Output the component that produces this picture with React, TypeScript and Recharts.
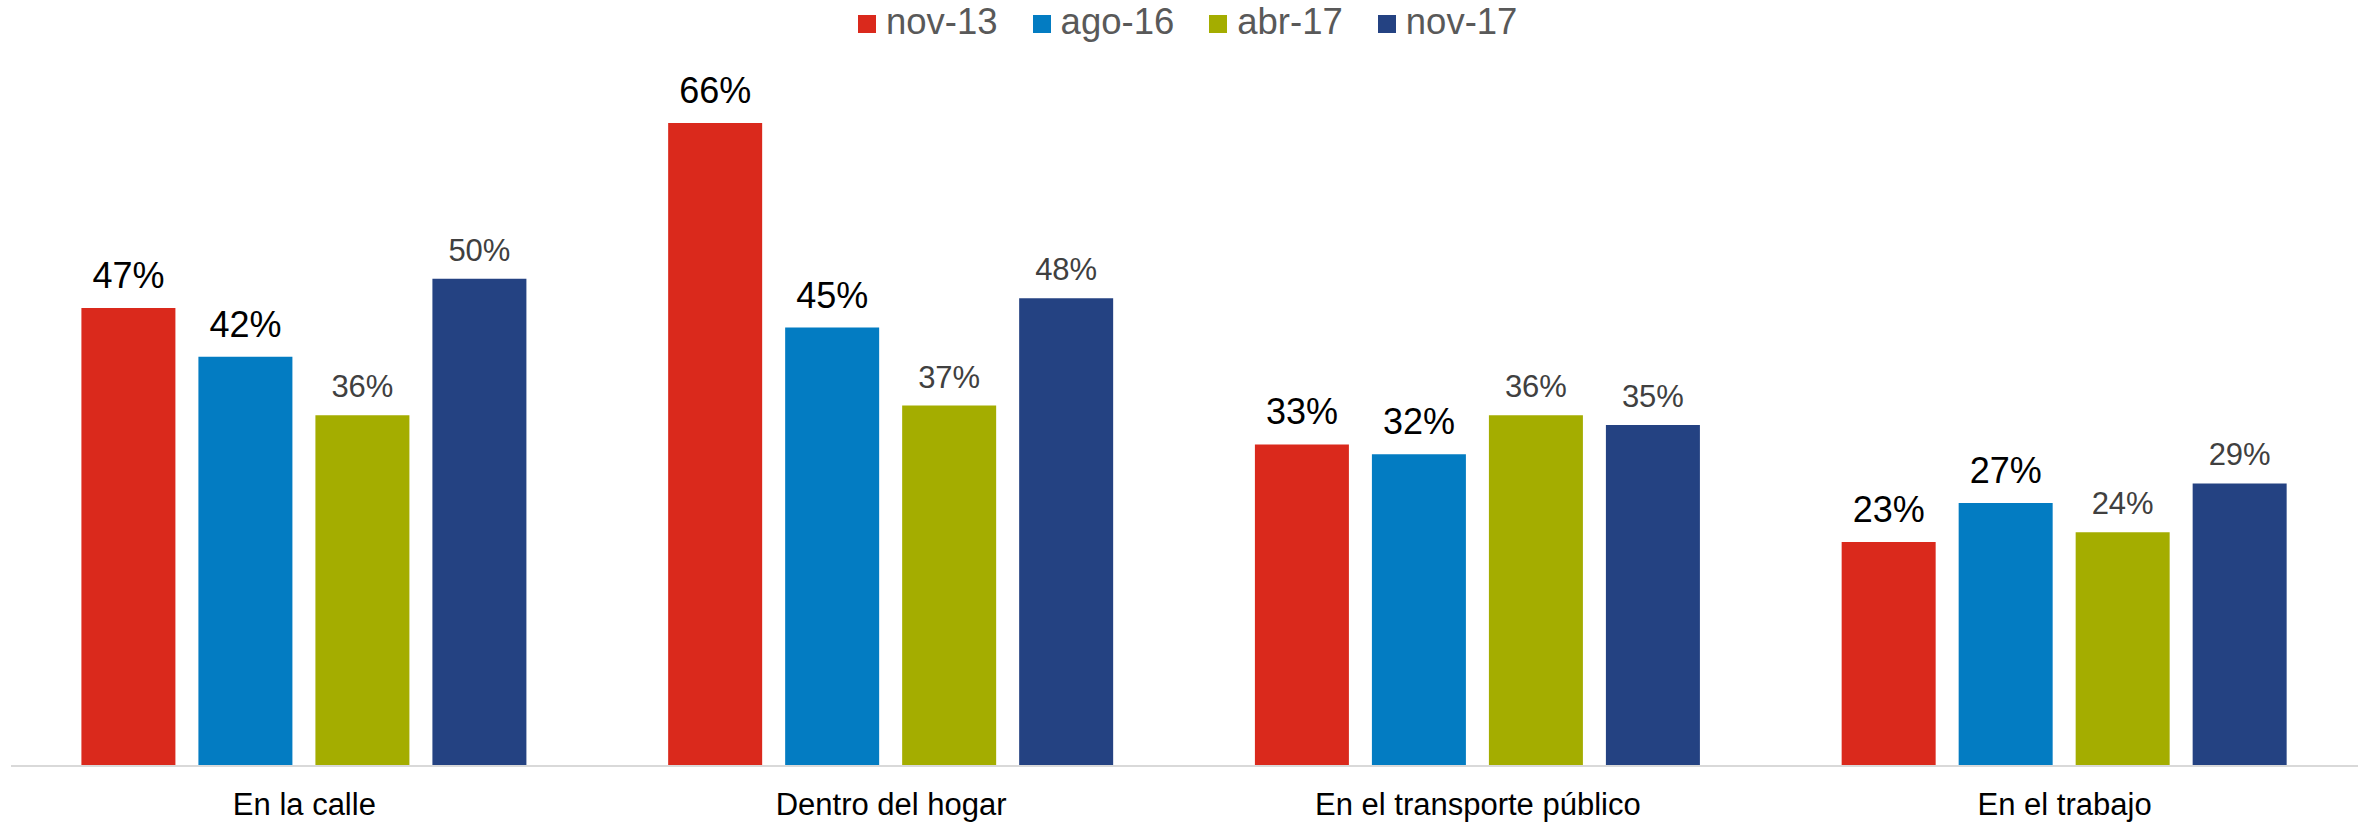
import React from "react";
import { BarChart, Bar, XAxis, YAxis, Legend, LabelList } from "recharts";

const categories = ["En la calle", "Dentro del hogar", "En el transporte público", "En el trabajo"];
const nov13 = [47, 66, 33, 23];
const ago16 = [42, 45, 32, 27];
const abr17 = [36, 37, 36, 24];
const nov17 = [50, 48, 35, 29];

const seriesNames = ["nov-13", "ago-16", "abr-17", "nov-17"];
const seriesColors = ["#DA291C", "#037CC2", "#A4AD00", "#244282"];

const data = categories.map((c, i) => ({
  name: c,
  "nov-13": nov13[i],
  "ago-16": ago16[i],
  "abr-17": abr17[i],
  "nov-17": nov17[i],
}));

const FONT = "'Liberation Sans', Arial, sans-serif";

const LegendContent = (props: any) => {
  const payload = [...(props.payload || [])].sort(
    (a: any, b: any) => seriesNames.indexOf(a.value) - seriesNames.indexOf(b.value)
  );
  return (
    <div
      style={{
        display: "flex",
        justifyContent: "flex-start",
        paddingLeft: 858,
        fontFamily: FONT,
        fontSize: 36.5,
        lineHeight: "36px",
        color: "#595959",
      }}
    >
      {payload.map((p: any, i: number) => (
        <div key={i} style={{ display: "flex", alignItems: "flex-start", marginRight: i < payload.length - 1 ? 35 : 0 }}>
          <div style={{ width: 18, height: 18, background: p.color, marginTop: 11, marginRight: 10 }} />
          <span>{p.value}</span>
        </div>
      ))}
    </div>
  );
};

const fmt = (v: any) => `${v}%`;

export default function App() {
  return (
    <div style={{ position: "absolute", left: 0, top: 0, width: 2364, height: 822, background: "#fff" }}>
      <BarChart
        width={2364}
        height={822}
        data={data}
        margin={{ top: 84, right: 6, bottom: 6, left: 11 }}
        barCategoryGap="12%"
        barGap={23}
        style={{ fontFamily: FONT }}
      >
        <XAxis
          dataKey="name"
          height={50}
          axisLine={{ stroke: "#D9D9D9", strokeWidth: 2 }}
          tickLine={false}
          tickSize={0}
          tickMargin={27}
          tick={{ fontSize: 31, fill: "#000000", fontFamily: FONT }}
        />
        <YAxis hide domain={[0, 70]} />
        <Legend
          verticalAlign="middle"
          align="center"
          wrapperStyle={{ top: 4, left: 0, width: 2364 }}
          content={<LegendContent />}
        />
        {seriesNames.map((s, i) => (
          <Bar key={s} dataKey={s} name={s} fill={seriesColors[i]} isAnimationActive={false}>
            <LabelList
              dataKey={s}
              position="top"
              offset={i < 2 ? 20 : 18}
              formatter={fmt}
              fill={i < 2 ? "#000000" : "#404040"}
              fontSize={i < 2 ? 36 : 31}
              fontFamily={FONT}
            />
          </Bar>
        ))}
      </BarChart>
    </div>
  );
}
